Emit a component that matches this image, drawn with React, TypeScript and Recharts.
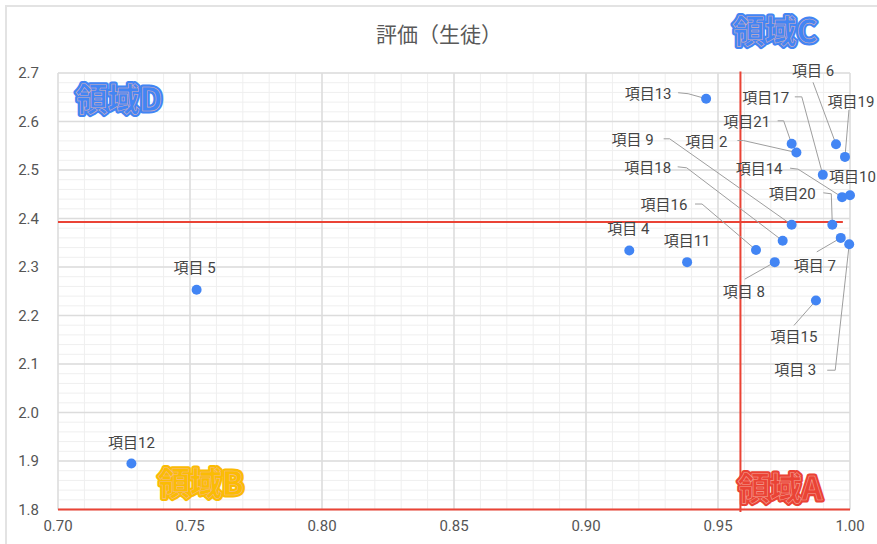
import { ReferenceLine, Scatter, ScatterChart, XAxis, YAxis } from "recharts";

// data
const itemNames = [
  "項目 2", "項目 3", "項目 4", "項目 5", "項目 6", "項目 7", "項目 8", "項目 9", "項目10", "項目11",
  "項目12", "項目13", "項目14", "項目15", "項目16", "項目17", "項目18", "項目19", "項目20", "項目21",
];
const xValues = [
  0.9797, 0.9997, 0.9164, 0.7525, 0.9947, 0.9965, 0.9715, 0.9779, 1.0, 0.9383,
  0.7278, 0.9455, 0.997, 0.9871, 0.9644, 0.9897, 0.9745, 0.9981, 0.9933, 0.9779,
];
const yValues = [
  2.536, 2.347, 2.334, 2.253, 2.553, 2.36, 2.31, 2.387, 2.448, 2.31,
  1.895, 2.647, 2.444, 2.231, 2.335, 2.49, 2.354, 2.527, 2.387, 2.554,
];
const xTicks = [0.7, 0.75, 0.8, 0.85, 0.9, 0.95, 1.0];
const yTicks = [1.8, 1.9, 2.0, 2.1, 2.2, 2.3, 2.4, 2.5, 2.6, 2.7];
const xMinor = Array.from({ length: 31 }, (_, i) => 0.7 + i * 0.01);
const yMinor = Array.from({ length: 46 }, (_, i) => 1.8 + i * 0.02);
const splitX = 0.9585;
const splitY = 2.393;

const data = itemNames.map((name, i) => ({ name, x: xValues[i], y: yValues[i] }));

// label placement (pixel offsets from the dot), leader lines end at the dot
type LabelPos = { dx: number; dy: number; anchor?: "start" | "middle"; leader?: number[][] };
const labelPos: Record<string, LabelPos> = {
  "項目13": { dx: -58, dy: -5, leader: [[-28, -6], [-18, -5], [0, 0]] },
  "項目 6": { dx: -23, dy: -73, leader: [[-23, -62], [0, 0]] },
  "項目19": { dx: 6, dy: -55, leader: [[4, -47], [0, 0]] },
  "項目17": { dx: -57, dy: -77, leader: [[-28, -78], [-21, -78], [0, 0]] },
  "項目21": { dx: -45, dy: -22, leader: [[-14, -23], [-8, -23], [0, 0]] },
  "項目 2": { dx: -90, dy: -11, leader: [[-59, -12], [-53, -12], [0, 0]] },
  "項目 9": { dx: -159, dy: -85, leader: [[-128, -86], [-122, -86], [0, 0]] },
  "項目18": { dx: -135, dy: -73, leader: [[-105, -74], [-96, -73], [0, 0]] },
  "項目14": { dx: -83, dy: -28, leader: [[-52, -29], [-44, -28], [0, 0]] },
  "項目10": { dx: -21, dy: -18, anchor: "start" },
  "項目20": { dx: -40, dy: -31, leader: [[-9, -32], [-1, -31], [0, 0]] },
  "項目16": { dx: -92, dy: -45, leader: [[-61, -46], [-54, -46], [0, 0]] },
  "項目 4": { dx: -1, dy: -22 },
  "項目11": { dx: 0, dy: -21 },
  "項目 8": { dx: -31, dy: 30, leader: [[-30, 17], [0, 0]] },
  "項目 7": { dx: -26, dy: 28, leader: [[-24, 14], [0, 0]] },
  "項目15": { dx: -22, dy: 37, leader: [[-22, 25], [0, 0]] },
  "項目 3": { dx: -54, dy: 126, leader: [[-22, 126], [-14, 126], [0, 0]] },
  "項目 5": { dx: -2, dy: -22 },
  "項目12": { dx: 0, dy: -20 },
};

const labelFont = "Roboto, 'Noto Sans CJK JP', sans-serif";

const PointShape = (props: any) => {
  const { cx, cy, payload } = props;
  const pos = labelPos[payload.name] || { dx: 0, dy: -20 };
  return (
    <g>
      {pos.leader && (
        <polyline
          points={pos.leader.map(([a, b]) => `${cx + a},${cy + b}`).join(" ")}
          fill="none"
          stroke="#9e9e9e"
          strokeWidth={1}
        />
      )}
      <circle cx={cx} cy={cy} r={5} fill="#4285F4" />
      <text
        x={cx + pos.dx}
        y={cy + pos.dy}
        textAnchor={pos.anchor || "middle"}
        dominantBaseline="central"
        fontSize={15}
        fontFamily={labelFont}
        fill="#444"
      >
        {payload.name}
      </text>
    </g>
  );
};

const regionFont = "'Noto Sans CJK JP', sans-serif";

const RegionLabel = ({ x, y, text, color }: { x: number; y: number; text: string; color: string }) => (
  <g fontFamily={regionFont} fontSize={32} fontWeight={700} textAnchor="middle">
    <text x={x} y={y} dominantBaseline="central" fill={color} stroke={color} strokeWidth={5} strokeLinejoin="round">
      {text}
    </text>
    <text x={x} y={y} dominantBaseline="central" fill={color} stroke="#f6b9ae" strokeWidth={0.6} strokeOpacity={0.8}>
      {text}
    </text>
  </g>
);

export default function App() {
  return (
    <div style={{ position: "absolute", left: 0, top: 0, width: 877, height: 544, overflow: "hidden", background: "#fff" }}>
      <div style={{ position: "absolute", left: 5, top: 5, width: 900, height: 600, border: "2px solid #e3e3e3" }} />
      <div style={{ position: "absolute", left: 0, top: 0 }}>
        <ScatterChart width={877} height={544} margin={{ top: 73, right: 27, bottom: 4.5, left: 0 }}>
          <XAxis
            type="number"
            dataKey="x"
            domain={[0.7, 1.0]}
            ticks={xTicks}
            tickFormatter={(v: number) => v.toFixed(2)}
            axisLine={false}
            tickLine={false}
            tickSize={0}
            tickMargin={11}
            height={30}
            tick={{ fontSize: 15, fill: "#555", fontFamily: labelFont }}
          />
          <YAxis
            type="number"
            dataKey="y"
            domain={[1.8, 2.7]}
            ticks={yTicks}
            tickFormatter={(v: number) => v.toFixed(1)}
            axisLine={false}
            tickLine={false}
            tickSize={0}
            tickMargin={19}
            width={58}
            tick={{ fontSize: 15, fill: "#555", fontFamily: labelFont }}
          />
          {xMinor.map((v) => (
            <ReferenceLine key={"xm" + v} x={v} stroke="#efefef" strokeWidth={1} />
          ))}
          {yMinor.map((v) => (
            <ReferenceLine key={"ym" + v} y={v} stroke="#efefef" strokeWidth={1} />
          ))}
          {xTicks.map((v) => (
            <ReferenceLine key={"xM" + v} x={v} stroke="#dcdcdc" strokeWidth={1.5} />
          ))}
          {yTicks.map((v) => (
            <ReferenceLine key={"yM" + v} y={v} stroke="#dcdcdc" strokeWidth={1.5} />
          ))}
          <ReferenceLine y={1.8} stroke="#EA4335" strokeWidth={2} />
          <ReferenceLine
            segment={[{ x: 0.7, y: splitY }, { x: 0.9973, y: splitY }]}
            stroke="#EA4335"
            strokeWidth={2}
          />
          <ReferenceLine
            segment={[{ x: splitX, y: 2.703 }, { x: splitX, y: 1.795 }]}
            stroke="#EA4335"
            strokeWidth={2}
            ifOverflow="visible"
          />
          <Scatter data={data} shape={PointShape} isAnimationActive={false} />
        </ScatterChart>
      </div>
      <svg width={877} height={544} style={{ position: "absolute", left: 0, top: 0, pointerEvents: "none" }}>
        <text x={439} y={35} textAnchor="middle" dominantBaseline="central" fontSize={21} fill="#595959" fontFamily={labelFont}>
          評価（生徒）
        </text>
        <RegionLabel x={775} y={29} text="領域C" color="#4285F4" />
        <RegionLabel x={119} y={97} text="領域D" color="#4285F4" />
        <RegionLabel x={201} y={481} text="領域B" color="#FBBC04" />
        <RegionLabel x={780} y={486} text="領域A" color="#EA4335" />
      </svg>
    </div>
  );
}
